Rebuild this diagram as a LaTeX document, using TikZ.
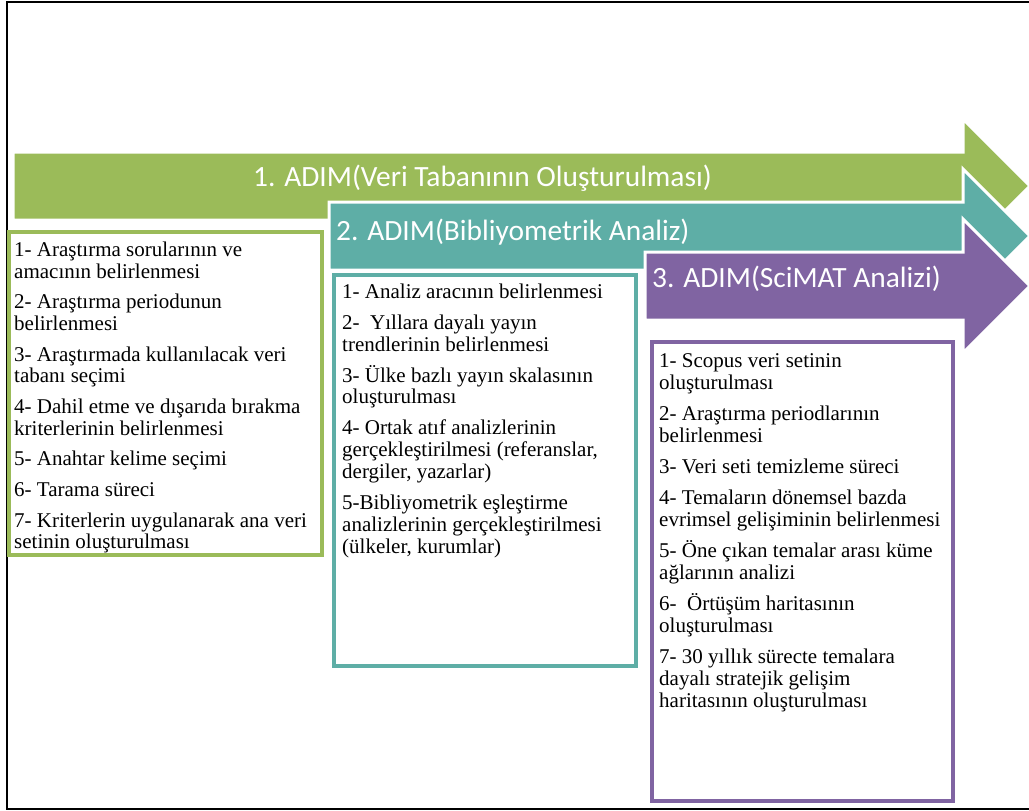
\documentclass[tikz,border=0pt]{standalone}
\usepackage{fontspec}
\setmainfont{Liberation Serif}
\newfontfamily\titlefont{Carlito}
\usetikzlibrary{positioning}

\definecolor{adimgreen}{HTML}{9BBB59}
\definecolor{adimteal}{HTML}{5EAEA6}
\definecolor{adimpurple}{HTML}{8064A2}

\tikzset{
  adimarrow/.style={fill=#1,draw=white,line width=3pt,line join=miter},
  adimtitle/.style={text=white,inner sep=0pt,anchor=base west,
    font=\titlefont\fontsize{29.4}{35}\selectfont},
  stepbox/.style={draw=#1,line width=4pt,fill=white,outer sep=0pt,
    anchor=north west},
  itemlist/.style={align=left,inner sep=0pt,anchor=north west,
    font=\fontsize{21}{21.8}\selectfont},
}

\begin{document}
\begin{tikzpicture}[x=1pt,y=-1pt]
  \useasboundingbox (0,0) rectangle (1029,811);
  % frame, open on the right
  \draw[line width=2pt] (1040,2) -- (7,2) -- (7,809) -- (1040,809);
  % the three step arrows
  \foreach \col/\xl/\yc in {adimgreen/13/186,adimteal/329/236,adimpurple/645/286}
    \path[adimarrow=\col] (\xl,\yc-34) -- (963,\yc-34) -- (963,\yc-67)
      -- (1030,\yc) -- (963,\yc+67) -- (963,\yc+34) -- (\xl,\yc+34) -- cycle;
  \node[adimtitle] (title1) at (253,186) {1. ADIM(Veri Tabanının Oluşturulması)};
  \node[adimtitle] (title2) at (336,240) {2. ADIM(Bibliyometrik Analiz)};
  \node[adimtitle] (title3) at (652,287) {3. ADIM(SciMAT Analizi)};
  % boxes under the arrows
  \node[stepbox=adimgreen,minimum width=313pt,minimum height=323pt] (box1) at (9,232) {};
  \node[stepbox=adimteal,minimum width=302pt,minimum height=391pt] (box2) at (334,275) {};
  \node[stepbox=adimpurple,minimum width=301pt,minimum height=459pt] (box3) at (652,342) {};
  \node[itemlist] (list1) at (14,241.5) {%
    1- Araştırma sorularının ve\\ amacının belirlenmesi\\[8.8pt]
    2- Araştırma periodunun\\ belirlenmesi\\[8.8pt]
    3- Araştırmada kullanılacak veri\\ tabanı seçimi\\[8.8pt]
    4- Dahil etme ve dışarıda bırakma\\ kriterlerinin belirlenmesi\\[8.8pt]
    5- Anahtar kelime seçimi\\[8.8pt]
    6- Tarama süreci\\[8.8pt]
    7- Kriterlerin uygulanarak ana veri\\ setinin oluşturulması};
  \node[itemlist] (list2) at (342,283.5) {%
    1- Analiz aracının belirlenmesi\\[9.2pt]
    2-~ Yıllara dayalı yayın\\ trendlerinin belirlenmesi\\[9.2pt]
    3- Ülke bazlı yayın skalasının\\ oluşturulması\\[9.2pt]
    4- Ortak atıf analizlerinin\\ gerçekleştirilmesi (referanslar,\\ dergiler, yazarlar)\\[9.2pt]
    5-Bibliyometrik eşleştirme\\ analizlerinin gerçekleştirilmesi\\ (ülkeler, kurumlar)};
  \node[itemlist] (list3) at (659,353.5) {%
    1- Scopus veri setinin\\ oluşturulması\\[9.4pt]
    2- Araştırma periodlarının\\ belirlenmesi\\[9.4pt]
    3- Veri seti temizleme süreci\\[9.4pt]
    4- Temaların dönemsel bazda\\ evrimsel gelişiminin belirlenmesi\\[9.4pt]
    5- Öne çıkan temalar arası küme\\ ağlarının analizi\\[9.4pt]
    6-~ Örtüşüm haritasının\\ oluşturulması\\[9.4pt]
    7- 30 yıllık sürecte temalara\\ dayalı stratejik gelişim\\ haritasının oluşturulması};
\end{tikzpicture}
\end{document}
